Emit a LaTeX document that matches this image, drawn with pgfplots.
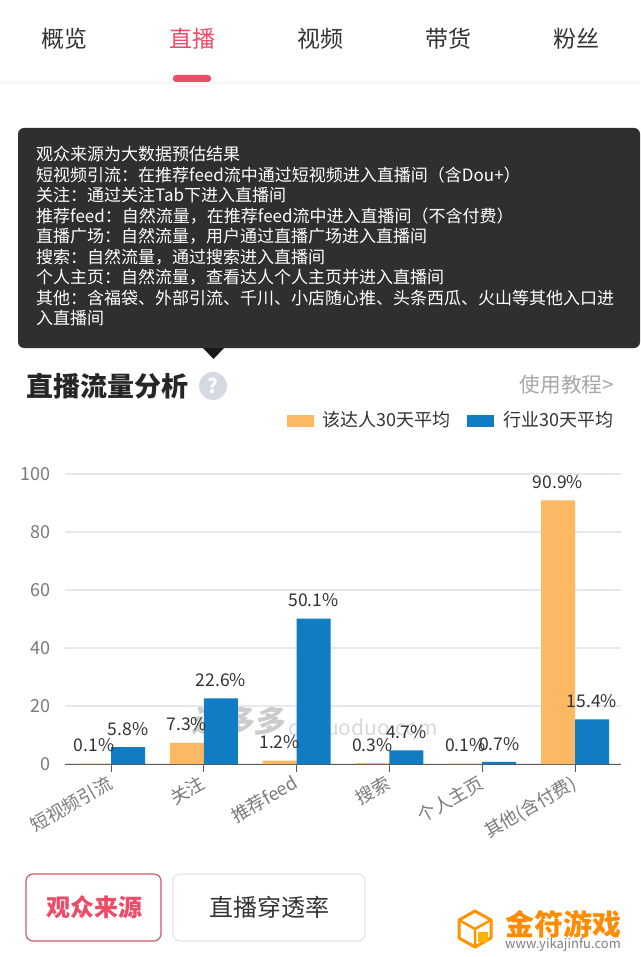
\documentclass[border=0pt]{standalone}
\usepackage{pgfplots}
\pgfplotsset{compat=1.18}
\usepackage{fontspec}
\setmainfont{Noto Sans CJK SC}

\definecolor{orangebar}{HTML}{FDB863}
\definecolor{bluebar}{HTML}{0F7CC4}
\definecolor{gridc}{HTML}{E6E8F0}
\definecolor{tickc}{HTML}{7A7A7A}
\definecolor{darktxt}{HTML}{333333}
\definecolor{pinkc}{HTML}{EE4B66}
\definecolor{tipc}{HTML}{2E2F31}
\definecolor{helpc}{HTML}{D5D9E3}

\pgfplotstableread{
x a b
0 0.1 5.8
1 7.3 22.6
2 1.2 50.1
3 0.3 4.7
4 0.1 0.7
5 90.9 15.4
}\flow

\begin{document}
\begin{tikzpicture}[x=1pt,y=-1pt]
\path[use as bounding box,fill=white] (0,0) rectangle (640,957);

% tabs
\fill[gray!6] (0,81) rectangle (640,84);
\foreach \t/\xx in {概览/64,视频/320,带货/448,粉丝/576}
  \node[text=darktxt,font=\fontsize{23}{23}\selectfont] at (\xx,39) {\t};
\node[text=pinkc,font=\fontsize{23}{23}\selectfont] at (192,39) {直播};
\fill[pinkc,rounded corners=3pt] (173,75) rectangle (211,82);

% tooltip
\fill[tipc,rounded corners=6pt] (18,128) rectangle (640,348);
\fill[black!90] (203,348) -- (224,348) -- (213.5,359) -- cycle;
\node[anchor=north west,text=white,align=left,inner sep=0pt,
  font=\fontsize{17}{20.5}\selectfont] at (36,146) {观众来源为大数据预估结果\\
短视频引流：在推荐feed流中通过短视频进入直播间（含Dou+）\\
关注：通过关注Tab下进入直播间\\
推荐feed：自然流量，在推荐feed流中进入直播间（不含付费）\\
直播广场：自然流量，用户通过直播广场进入直播间\\
搜索：自然流量，通过搜索进入直播间\\
个人主页：自然流量，查看达人个人主页并进入直播间\\
其他：含福袋、外部引流、千川、小店随心推、头条西瓜、火山等其他入口进\\
入直播间};

% heading
\node[anchor=west,text=black!85,font=\fontsize{27}{27}\selectfont\bfseries,inner sep=0pt] at (26,386) {直播流量分析};
\fill[helpc] (213,386) circle (14);
\node[text=white,font=\fontsize{20}{20}\selectfont\bfseries] at (213,386) {?};
\node[anchor=east,text=gray!70,font=\fontsize{20.6}{20.6}\selectfont,inner sep=0pt] at (614,385) {使用教程>};

% legend
\fill[orangebar] (287,415) rectangle (314,427);
\node[anchor=west,text=darktxt,font=\fontsize{18}{18}\selectfont,inner sep=0pt] at (322,420) {该达人30天平均};
\fill[bluebar] (467,415) rectangle (494,427);
\node[anchor=west,text=darktxt,font=\fontsize{18}{18}\selectfont,inner sep=0pt] at (503,420) {行业30天平均};

% watermark
\node[text=gray,opacity=0.4,xslant=0.2,font=\fontsize{31}{31}\selectfont\bfseries] at (240,721) {达多多};
\node[text=gray,opacity=0.3,font=\fontsize{21}{21}\selectfont] at (363,727) {daduoduo.com};

\begin{axis}[
  at={(64.6pt,-764pt)},anchor=south west,
  scale only axis,width=556.8pt,height=290pt,
  xmin=-0.5,xmax=5.5,ymin=0,ymax=100,
  ybar=0pt,bar width=34pt,
  axis x line*=bottom,axis y line*=left,
  y axis line style={draw=none},
  x axis line style={draw=black!65,line width=1pt},
  xtick={0,...,5},
  xticklabels={短视频引流,关注,推荐feed,搜索,个人主页,其他(含付费)},
  ytick={0,20,...,100},
  ymajorgrids,
  grid style={gridc,line width=1.6pt},
  major y tick style={draw=none},
  major x tick style={draw=black!65,line width=1pt},
  major tick length=8pt,
  tick align=outside,
  /pgf/number format/assume math mode=true,
  tick label style={text=tickc,font=\fontsize{18}{18}\selectfont},
  x tick label style={rotate=30,anchor=north east,inner sep=2pt,xshift=-3pt,yshift=3pt},
  y tick label style={inner sep=0pt,xshift=-6pt},
  nodes near coords={\pgfmathprintnumber[fixed,fixed zerofill,precision=1,assume math mode=true]{\pgfplotspointmeta}\%},
  every node near coord/.append style={text=darktxt,font=\fontsize{17.5}{17.5}\selectfont,inner sep=0pt,yshift=11.5pt},
  clip=false,
]
\addplot[fill=orangebar,draw=none] table[x=x,y=a] {\flow};
\addplot[fill=bluebar,draw=none] table[x=x,y=b] {\flow};
\end{axis}

% buttons
\draw[pinkc!75!gray,line width=1.2pt,rounded corners=7pt] (26,874) rectangle (161,941);
\node[text=pinkc,font=\fontsize{24}{24}\selectfont\bfseries] at (94,907) {观众来源};
\draw[gray!20,line width=1.2pt,rounded corners=7pt] (173,874) rectangle (365,941);
\node[text=darktxt,font=\fontsize{24}{24}\selectfont] at (269,907) {直播穿透率};

% logo
\draw[orange!85!yellow,line width=3pt,line join=round] (475,911) -- (491,920) -- (491,938) -- (475,947) -- (459,938) -- (459,920) -- cycle;
\draw[orange!85!yellow,line width=2.5pt] (459,920) -- (475,929) -- (491,920) (475,929) -- (475,947);
\fill[orange!60!yellow] (478,932) rectangle (488,942);
\node[anchor=west,text=orange!90!yellow,font=\fontsize{29}{29}\selectfont\bfseries,inner sep=0pt] at (505,924) {金符游戏};
\node[anchor=west,text=gray,font=\fontsize{13}{13}\selectfont,inner sep=0pt] at (505,945) {www.yikajinfu.com};
\end{tikzpicture}
\end{document}
